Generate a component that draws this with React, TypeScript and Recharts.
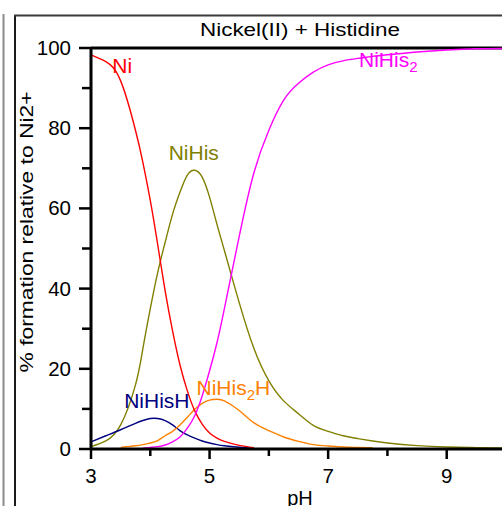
import { LineChart, Line, XAxis, YAxis, ReferenceLine, ReferenceDot } from "recharts"

// pH grid and species distribution (% relative to total Ni2+)
const ph = [3, 3.25, 3.5, 3.75, 3.875, 4, 4.125, 4.25, 4.375, 4.5, 4.625, 4.75, 4.875, 5, 5.125, 5.25, 5.5, 5.75, 6, 6.25, 6.5, 6.75, 7, 7.25, 7.5, 7.75, 8, 8.5, 9, 9.5, 10]
const ni = [98.3, 96.6, 91.8, 79.5, 71.5, 62, 51, 39.5, 29.5, 21, 14.5, 9.5, 6.2, 4.0, 2.7, 1.9, 0.9, 0.35, null, null, null, null, null, null, null, null, null, null, null, null, null]
const niHis = [0.6, 2, 6, 16, 25, 35, 44, 51.5, 58.5, 64, 68.3, 69.5, 67.8, 62.8, 56, 49.5, 36.5, 25, 17, 12, 8.8, 5.9, 4.4, 3.3, 2.6, 2, 1.5, 0.85, 0.5, 0.35, 0.25]
const niHisH = [1.8, 3.3, 4.8, 6.4, 7.1, 7.6, 7.6, 7.1, 6.0, 4.6, 3.5, 2.7, 2.0, 1.5, 1.1, 0.8, 0.45, 0.2, null, null, null, null, null, null, null, null, null, null, null, null, null]
const niHis2H = [null, null, 0.4, 0.8, 1.1, 1.5, 2.1, 3.3, 4.4, 6.0, 7.9, 9.9, 11.4, 12.2, 12.4, 12, 9.6, 6.5, 4.6, 3.0, 1.9, 1.1, 0.75, 0.5, 0.4, 0.3, null, null, null, null, null]
const niHis2 = [null, null, null, null, 0.2, 0.4, 0.6, 1.0, 1.8, 3.0, 5.2, 8.3, 13.2, 19.5, 26.5, 35, 53, 69, 79.5, 87, 91.2, 94, 95.8, 96.8, 97.4, 97.9, 98.3, 99, 99.5, 99.8, 99.9]

const xTicks = [3, 4, 5, 6, 7, 8, 9, 10]
const yTicks = [0, 10, 20, 30, 40, 50, 60, 70, 80, 90, 100]

const data = ph.map((p, i) => ({
  ph: p,
  ni: ni[i],
  niHis: niHis[i],
  niHisH: niHisH[i],
  niHis2H: niHis2H[i],
  niHis2: niHis2[i],
}))

const FONT = "'Liberation Sans', Arial, sans-serif"

const YTick = (props: any) => {
  const { x, y, payload } = props
  const major = payload.value % 20 === 0
  return (
    <g>
      <line x1={x - (major ? 12 : 9)} y1={y} x2={x} y2={y} stroke="#000" strokeWidth={2.5} />
      {major && (
        <text x={x - 20} y={y + 7} textAnchor="end" fontSize={20.5} fontFamily={FONT} fill="#000">
          {payload.value}
        </text>
      )}
    </g>
  )
}

const XTick = (props: any) => {
  const { x, y, payload } = props
  const major = payload.value % 2 === 1
  return (
    <g>
      <line x1={x} y1={y} x2={x} y2={y + (major ? 10 : 7)} stroke="#000" strokeWidth={2.5} />
      {major && (
        <text x={x} y={y + 33.5} textAnchor="middle" fontSize={20.5} fontFamily={FONT} fill="#000">
          {payload.value}
        </text>
      )}
    </g>
  )
}

const SeriesLabel = (props: any) => {
  const { viewBox, text, sub, after, color } = props
  return (
    <text x={viewBox.x} y={viewBox.y} fill={color} fontSize={21} fontFamily={FONT}>
      {text}
      {sub && <tspan fontSize={15} dy={5}>{sub}</tspan>}
      {after && <tspan fontSize={21} dy={-5}>{after}</tspan>}
    </text>
  )
}

export default function App() {
  return (
    <div style={{ position: "absolute", left: 0, top: 0, width: 502, height: 506, overflow: "hidden", background: "#fff" }}>
      <div style={{ position: "absolute", left: 0, top: 0 }}>
        <LineChart width={520} height={506} data={data} margin={{ top: 48, right: 14, bottom: 0, left: 0 }}>
          <XAxis
            dataKey="ph"
            type="number"
            domain={[3, 10]}
            ticks={xTicks}
            interval={0}
            tickSize={0}
            tickMargin={0}
            height={57}
            axisLine={{ stroke: "#000", strokeWidth: 3 }}
            tickLine={false}
            tick={<XTick />}
          />
          <YAxis
            type="number"
            domain={[0, 100]}
            ticks={yTicks}
            interval={0}
            tickSize={0}
            tickMargin={0}
            width={91}
            axisLine={{ stroke: "#000", strokeWidth: 3 }}
            tickLine={false}
            tick={<YTick />}
          />
          <ReferenceLine y={100} stroke="#000" strokeWidth={3} />
          <Line type="natural" dataKey="niHis" stroke="#808000" strokeWidth={1.4} dot={false} isAnimationActive={false} />
          <Line type="natural" dataKey="niHisH" stroke="#000080" strokeWidth={1.4} dot={false} isAnimationActive={false} />
          <Line type="natural" dataKey="niHis2H" stroke="#ff8000" strokeWidth={1.4} dot={false} isAnimationActive={false} />
          <Line type="natural" dataKey="ni" stroke="#ff0000" strokeWidth={1.4} dot={false} isAnimationActive={false} />
          <Line type="natural" dataKey="niHis2" stroke="#ff00ff" strokeWidth={1.4} dot={false} isAnimationActive={false} />
          <ReferenceDot x={3.36} y={93.8} r={0} label={<SeriesLabel text="Ni" color="#ff0000" />} />
          <ReferenceDot x={4.31} y={72.1} r={0} label={<SeriesLabel text="NiHis" color="#808000" />} />
          <ReferenceDot x={7.52} y={95.3} r={0} label={<SeriesLabel text="NiHis" sub="2" color="#ff00ff" />} />
          <ReferenceDot x={3.56} y={10.2} r={0} label={<SeriesLabel text="NiHisH" color="#000080" />} />
          <ReferenceDot x={4.78} y={13.5} r={0} label={<SeriesLabel text="NiHis" sub="2" after="H" color="#ff8000" />} />
        </LineChart>
      </div>
      <svg width={502} height={506} style={{ position: "absolute", left: 0, top: 0, pointerEvents: "none" }}>
        <line x1={3.5} y1={14} x2={3.5} y2={506} stroke="#8c8c8c" strokeWidth={2} />
        <line x1={15} y1={15} x2={15} y2={506} stroke="#1a1a1a" strokeWidth={2} />
        <line x1={14} y1={15.5} x2={502} y2={15.5} stroke="#3a3a3a" strokeWidth={2} />
        <text x={300} y={36} textAnchor="middle" fontSize={18} fontFamily={FONT} textLength={200} lengthAdjust="spacingAndGlyphs" fill="#000">
          Nickel(II) + Histidine
        </text>
        <text
          transform="translate(33,232) rotate(-90)"
          textAnchor="middle"
          fontSize={17.5}
          fontFamily={FONT}
          textLength={281}
          lengthAdjust="spacingAndGlyphs"
          fill="#000"
        >
          % formation relative to Ni2+
        </text>
        <text x={300} y={505} textAnchor="middle" fontSize={20} fontFamily={FONT} fill="#000">
          pH
        </text>
      </svg>
    </div>
  )
}
